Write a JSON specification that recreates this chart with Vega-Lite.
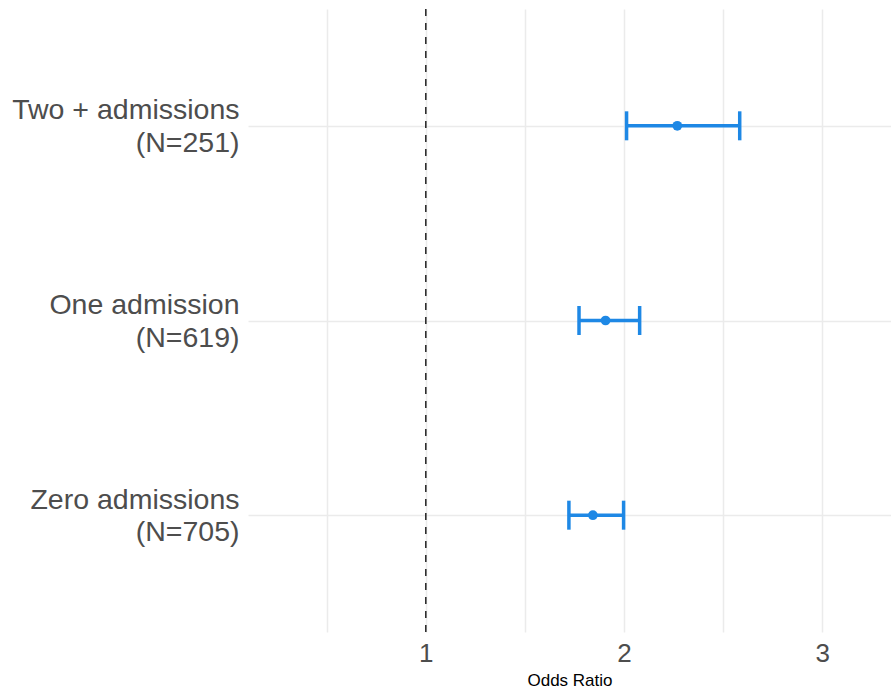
{
  "$schema": "https://vega.github.io/schema/vega-lite/v6.json",
  "width": 643,
  "height": 623,
  "autosize": {"type": "none"},
  "padding": {"left": 248, "top": 9, "right": 0, "bottom": 57},
  "background": "white",
  "config": {
    "view": {"stroke": null},
    "font": "Liberation Sans"
  },
  "layer": [
    {
      "data": {
        "values": [
          {"group": "Two + admissions\n(N=251)", "or": 2.269, "lo": 2.013, "hi": 2.584},
          {"group": "One admission\n(N=619)", "or": 1.907, "lo": 1.773, "hi": 2.079},
          {"group": "Zero admissions\n(N=705)", "or": 1.843, "lo": 1.722, "hi": 1.998}
        ]
      },
      "encoding": {
        "y": {
          "field": "group",
          "type": "nominal",
          "sort": null,
          "scale": {"type": "point", "padding": 0.6},
          "axis": {
            "title": null,
            "domain": false,
            "ticks": false,
            "grid": true,
            "gridColor": "#ebebeb",
            "gridWidth": 1.5,
            "labelExpr": "split(datum.value, '\\n')",
            "labelFont": "Liberation Sans",
            "labelFontSize": 28.5,
            "labelColor": "#4d4d4d",
            "labelPadding": 9,
            "labelLineHeight": 32.5,
            "labelLimit": 1000,
            "labelOffset": -16,
            "labelAlign": "right",
            "labelBaseline": "middle"
          }
        }
      },
      "layer": [
        {
          "mark": {"type": "rule", "strokeWidth": 3.5, "color": "#1E88E5"},
          "encoding": {
            "x": {
              "field": "lo",
              "type": "quantitative",
              "scale": {"domain": [0.1025, 3.3475], "nice": false, "zero": false},
              "axis": {
                "title": "Odds Ratio",
                "titleFont": "Liberation Sans",
                "titleFontSize": 17,
                "titleFontWeight": "normal",
                "titleColor": "black",
                "titlePadding": 6,
                "values": [0.5, 1, 1.5, 2, 2.5, 3],
                "labelExpr": "datum.value % 1 == 0 ? format(datum.value, 'd') : ''",
                "labelFont": "Liberation Sans",
                "labelFontSize": 26,
                "labelColor": "#4d4d4d",
                "labelPadding": 8,
                "domain": false,
                "ticks": false,
                "grid": true,
                "gridColor": "#ebebeb",
                "gridWidth": 1.5
              }
            },
            "x2": {"field": "hi"}
          }
        },
        {
          "mark": {"type": "tick", "orient": "vertical", "size": 29, "thickness": 3.5, "opacity": 1, "color": "#1E88E5"},
          "encoding": {"x": {"field": "lo", "type": "quantitative"}}
        },
        {
          "mark": {"type": "tick", "orient": "vertical", "size": 29, "thickness": 3.5, "opacity": 1, "color": "#1E88E5"},
          "encoding": {"x": {"field": "hi", "type": "quantitative"}}
        },
        {
          "mark": {"type": "point", "filled": true, "opacity": 1, "size": 95, "color": "#1E88E5"},
          "encoding": {"x": {"field": "or", "type": "quantitative"}}
        }
      ]
    },
    {
      "data": {"values": [{"ref": 1}]},
      "mark": {"type": "rule", "color": "black", "strokeWidth": 1.3, "strokeDash": [7, 7]},
      "encoding": {"x": {"field": "ref", "type": "quantitative"}}
    }
  ]
}
